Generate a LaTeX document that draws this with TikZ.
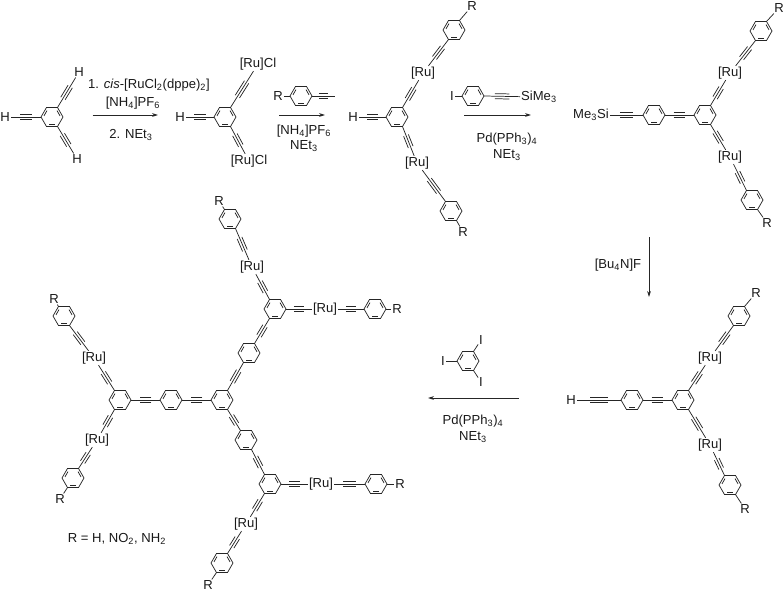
\documentclass[tikz,border=0pt]{standalone}
\usepackage{fontspec}
\setmainfont{Liberation Sans}
\usetikzlibrary{calc,arrows.meta}
\tikzset{
  bond/.style={line width=0.55pt, black!85},
  lbl/.style={inner sep=0.6pt, font=\fontsize{9.8}{11}\selectfont, text=black!90},
  cond/.style={inner sep=0pt, align=center, font=\fontsize{9.8}{11.5}\selectfont, text=black!90},
  rxn/.style={line width=0.55pt, black!85, -{Stealth[length=4.5pt,width=2.8pt]}}
}
% benzene ring, corners #1-0 ... #1-300 (y runs downwards, so 60 is lower right)
\newcommand{\benz}[2]{
  \coordinate (#1) at (#2);
  \foreach \a in {0,60,...,300} {\coordinate (#1-\a) at ($(#1)+(\a:11)$);}
  \draw[bond] (#1-0) -- (#1-60) -- (#1-120) -- (#1-180) -- (#1-240) -- (#1-300) -- cycle;
  \foreach \a/\b in {60/120,180/240,300/0} {
    \draw[bond] ($(#1)!.76!(#1-\a)!.12!(#1-\b)$) -- ($(#1)!.76!(#1-\b)!.12!(#1-\a)$);
  }
}
% triple bond between two named points
\newcommand{\tbond}[2]{
  \draw[bond] (#1) -- (#2) coordinate[pos=.3] (tp) coordinate[pos=.7] (tq);
  \draw[bond] ($(tp)!1.9pt!90:(tq)$) -- ($(tq)!1.9pt!-90:(tp)$);
  \draw[bond] ($(tp)!1.9pt!-90:(tq)$) -- ($(tq)!1.9pt!90:(tp)$);
}
\begin{document}
\begin{tikzpicture}[x=0.75pt,y=-0.75pt]
\useasboundingbox (0,0) rectangle (784,592);
% triethynylbenzene
\benz{ra}{52,117}
\node[lbl] (haL) at (5,117) {H};
\node[lbl] (haU) at (79,72) {H};
\node[lbl] (haD) at (77,159) {H};
\tbond{ra-180}{haL}
\tbond{ra-300}{haU}
\tbond{ra-60}{haD}
% first arrow
\coordinate (aaS) at (92.5,115);
\coordinate (aaE) at (158,115);
\draw[rxn] (aaS) -- (aaE);
\node[cond] (caA) at (149,85) {1. \textit{cis}-[RuCl\textsubscript{2}(dppe)\textsubscript{2}]};
\node[cond] (caB) at (133,103) {[NH\textsubscript{4}]PF\textsubscript{6}};
\node[cond] (caC) at (131,135) {2. NEt\textsubscript{3}};
% bis-chloride
\benz{rb}{225,117}
\node[lbl] (hb) at (180,117) {H};
\node[lbl] (ruClU) at (258,64) {[Ru]Cl};
\node[lbl] (ruClD) at (249,161) {[Ru]Cl};
\tbond{rb-180}{hb}
\tbond{rb-300}{ruClU}
\tbond{rb-60}{ruClD}
% second arrow
\coordinate (abS) at (279,115);
\coordinate (abE) at (325,115);
\draw[rxn] (abS) -- (abE);
\benz{rc}{301,96}
\node[lbl] (rcR) at (278,96) {R};
\coordinate (rcT) at (335,96);
\draw[bond] (rc-180) -- (rcR);
\tbond{rc-0}{rcT}
\node[cond] (cbA) at (304,131) {[NH\textsubscript{4}]PF\textsubscript{6}};
\node[cond] (cbB) at (304,146) {NEt\textsubscript{3}};
% third molecule
\benz{rd}{397,117}
\benz{rdU}{454,30}
\benz{rdD}{451,211}
\node[lbl] (hd) at (353,117) {H};
\node[lbl] (ruDU) at (423,73) {[Ru]};
\node[lbl] (ruDD) at (417,163) {[Ru]};
\node[lbl] (rdUR) at (472,6) {R};
\node[lbl] (rdDR) at (463,232) {R};
\tbond{rd-180}{hd}
\tbond{rd-300}{ruDU}
\tbond{ruDU}{rdU-120}
\tbond{rd-60}{ruDD}
\tbond{ruDD}{rdD-240}
\draw[bond] (rdU-300) -- (rdUR);
\draw[bond] (rdD-60) -- (rdDR);
% third arrow
\coordinate (acS) at (464,115);
\coordinate (acE) at (531,115);
\draw[rxn] (acS) -- (acE);
\benz{re}{473,96}
\node[lbl] (reI) at (452,96) {I};
\node[lbl] (reSi) at (539,97) {SiMe\textsubscript{3}};
\draw[bond] (re-180) -- (reI);
\tbond{re-0}{reSi}
\node[cond] (ccA) at (507,139) {Pd(PPh\textsubscript{3})\textsubscript{4}};
\node[cond] (ccB) at (507,155) {NEt\textsubscript{3}};
% silyl protected molecule
\benz{rf}{705,115}
\benz{rfP}{654,115}
\benz{rfU}{761,31}
\benz{rfD}{752,200}
\node[lbl] (si) at (591,115) {Me\textsubscript{3}Si};
\node[lbl] (ruFU) at (730,73) {[Ru]};
\node[lbl] (ruFD) at (730,157) {[Ru]};
\node[lbl] (rfUR) at (779,8) {R};
\node[lbl] (rfDR) at (767,223) {R};
\tbond{si}{rfP-180}
\tbond{rfP-0}{rf-180}
\tbond{rf-300}{ruFU}
\tbond{ruFU}{rfU-120}
\tbond{rf-60}{ruFD}
\tbond{ruFD}{rfD-240}
\draw[bond] (rfU-300) -- (rfUR);
\draw[bond] (rfD-60) -- (rfDR);
% deprotection arrow
\coordinate (adS) at (649,237);
\coordinate (adE) at (649,297);
\draw[rxn] (adS) -- (adE);
\node[cond] (cd) at (618,265) {[Bu\textsubscript{4}N]F};
% free ethynyl molecule
\benz{rg}{683,400}
\benz{rgP}{632,400}
\benz{rgU}{739,316}
\benz{rgD}{730,485}
\node[lbl] (hg) at (571,400) {H};
\node[lbl] (ruGU) at (710,358) {[Ru]};
\node[lbl] (ruGD) at (710,445) {[Ru]};
\node[lbl] (rgUR) at (756,293) {R};
\node[lbl] (rgDR) at (745,509) {R};
\tbond{hg}{rgP-180}
\tbond{rgP-0}{rg-180}
\tbond{rg-300}{ruGU}
\tbond{ruGU}{rgU-120}
\tbond{rg-60}{ruGD}
\tbond{ruGD}{rgD-240}
\draw[bond] (rgU-300) -- (rgUR);
\draw[bond] (rgD-60) -- (rgDR);
% triiodobenzene and last arrow
\benz{rh}{468,361}
\node[lbl] (iL) at (443,361) {I};
\node[lbl] (iU) at (481,340) {I};
\node[lbl] (iD) at (481,382) {I};
\draw[bond] (rh-180) -- (iL);
\draw[bond] (rh-300) -- (iU);
\draw[bond] (rh-60) -- (iD);
\coordinate (aeS) at (519,398);
\coordinate (aeE) at (428,398);
\draw[rxn] (aeS) -- (aeE);
\node[cond] (ceA) at (473,421) {Pd(PPh\textsubscript{3})\textsubscript{4}};
\node[cond] (ceB) at (473,437) {NEt\textsubscript{3}};
% product, rings first
\foreach \n/\p in {pa/{275,309},pb/{230,219},pc/{375,309},pd/{249,353},pe/{222,400},pf/{171,400},pg/{120,400},ph/{64,316},pi/{73,478},pj/{246,440},pk/{270,484},pl/{376,484},pm/{222,563}} {
  \benz{\n}{\p}
}
\node[lbl] (ruA) at (252,267) {[Ru]};
\node[lbl] (ruB) at (325,309) {[Ru]};
\node[lbl] (ruC) at (94,358) {[Ru]};
\node[lbl] (ruD) at (97,440) {[Ru]};
\node[lbl] (ruE) at (321,484) {[Ru]};
\node[lbl] (ruF) at (246,524) {[Ru]};
\node[lbl] (pbR) at (219,201) {R};
\node[lbl] (pcR) at (397,309) {R};
\node[lbl] (phR) at (54,299) {R};
\node[lbl] (piR) at (60,499) {R};
\node[lbl] (plR) at (400,484) {R};
\node[lbl] (pmR) at (208,585) {R};
% upper arm
\tbond{pa-240}{ruA}
\tbond{ruA}{pb-60}
\draw[bond] (pb-240) -- (pbR);
\tbond{pa-0}{ruB}
\tbond{ruB}{pc-180}
\draw[bond] (pc-0) -- (pcR);
\tbond{pa-120}{pd-300}
\tbond{pd-120}{pe-300}
% left arm
\tbond{pe-180}{pf-0}
\tbond{pf-180}{pg-0}
\tbond{pg-240}{ruC}
\tbond{ruC}{ph-60}
\draw[bond] (ph-240) -- (phR);
\tbond{pg-120}{ruD}
\tbond{ruD}{pi-300}
\draw[bond] (pi-120) -- (piR);
% lower arm
\tbond{pe-60}{pj-240}
\tbond{pj-60}{pk-240}
\tbond{pk-0}{ruE}
\tbond{ruE}{pl-180}
\draw[bond] (pl-0) -- (plR);
\tbond{pk-120}{ruF}
\tbond{ruF}{pm-300}
\draw[bond] (pm-120) -- (pmR);
% legend
\node[cond] (key) at (117,539) {R = H, NO\textsubscript{2}, NH\textsubscript{2}};
\end{tikzpicture}
\end{document}
